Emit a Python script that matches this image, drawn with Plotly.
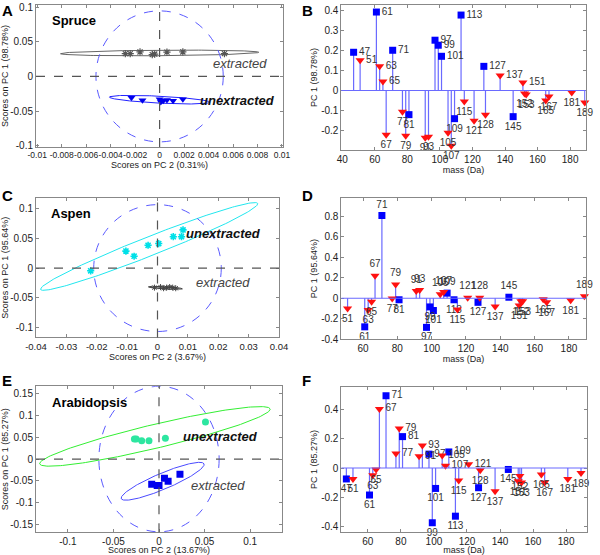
import numpy as np
import plotly.graph_objects as go

# ---------------- data ----------------
masses = [47, 51, 61, 63, 65, 67, 71, 77, 79, 81, 91, 93, 97, 99, 101, 105, 107, 109,
          113, 115, 121, 127, 128, 137, 145, 151, 152, 153, 165, 167, 181, 189]
square_masses = [47, 61, 71, 81, 97, 99, 101, 109, 113, 127, 145]

spruce_pc1 = [0.19, 0.15, 0.39, 0.12, 0.045, -0.22, 0.20, -0.105, -0.225, -0.12, -0.235, -0.23,
              0.25, 0.225, 0.17, -0.21, -0.275, -0.14, 0.375, -0.055, -0.15, 0.12, -0.12, 0.075,
              -0.13, 0.04, -0.015, -0.02, -0.05, -0.03, -0.01, -0.06]
aspen_pc1 = [-0.11, -0.10, -0.28, -0.115, -0.035, 0.22, 0.81, -0.002, 0.135, -0.015, 0.07, 0.08,
             -0.285, -0.085, -0.12, 0.04, 0.06, 0.05, -0.015, -0.11, 0.005, -0.04, 0.005, -0.08,
             0.01, -0.07, -0.03, -0.03, -0.01, -0.04, -0.02, 0.02]
arab_pc1 = [-0.075, -0.075, -0.185, -0.05, -0.01, 0.405, 0.495, 0.10, 0.27, 0.215, 0.08, 0.155,
            0.095, -0.375, -0.14, 0.085, 0.015, 0.11, -0.33, -0.085, 0.025, -0.135, -0.015, -0.16,
            -0.01, -0.09, -0.055, -0.1, -0.045, -0.1, -0.075, -0.035]

# score plots (PC2, PC1)
spruce_ext_pc2 = [-0.0028, -0.0024, -0.0016, -0.0006, -0.0004, 0.0006, 0.0019, 0.0053]
spruce_ext_pc1 = [0.0328, 0.0328, 0.0353, 0.0314, 0.0322, 0.0350, 0.0353, 0.0328]
spruce_unx_pc2 = [-0.0023, -0.0014, 0.0, 0.0003, 0.0006, 0.0011, 0.0019, 0.0001]
spruce_unx_pc1 = [-0.031, -0.0343, -0.033, -0.035, -0.034, -0.035, -0.033, -0.037]

aspen_unx_pc2 = [-0.022, -0.0104, -0.0077, -0.0031, 0.0004, 0.0052, 0.0079, 0.0084]
aspen_unx_pc1 = [-0.0046, 0.0287, 0.020, 0.0385, 0.0414, 0.0529, 0.0529, 0.0644]
aspen_ext_pc2 = [-0.001, 0.001, 0.002, 0.003, 0.004, 0.005, 0.006]
aspen_ext_pc1 = [-0.033, -0.032, -0.034, -0.033, -0.032, -0.033, -0.034]

arab_unx_pc2 = [-0.027, -0.025, -0.019, -0.011, 0.007, 0.051]
arab_unx_pc1 = [0.046, 0.046, 0.042, 0.042, 0.048, 0.085]
arab_ext_pc2 = [-0.008, -0.002, 0.0, 0.006, 0.010, 0.023]
arab_ext_pc1 = [-0.058, -0.061, -0.061, -0.044, -0.051, -0.035]

# confidence ellipses: centre, half-axis vector A, half-axis vector B (data units)
spruce_ext_ell = [(0.0, 0.0338), (0.0081, 0.001), (0.0, 0.004)]
spruce_unx_ell = [(0.0, -0.0336), (0.0041, -0.0037), (0.0, 0.005)]
aspen_unx_ell = [(-0.00275, 0.0365), (0.03575, 0.0725), (-0.00113, 0.0149)]
aspen_ext_ell = [(0.0026, -0.0333), (0.0056, -0.0017), (0.0, 0.002)]
arab_unx_ell = [(-0.0045, 0.052), (0.1265, 0.063), (-0.00304, 0.02657)]
arab_ext_ell = [(0.004, -0.051), (0.0454, 0.040), (-0.00345, 0.017)]

# Hotelling limit circles (x radius, y radius)
spruce_lim = (0.0052, 0.0945)
aspen_lim = (0.021, 0.107)
arab_lim = (0.066, 0.167)

FONT = "Liberation Sans, Arial, sans-serif"
BLUE = "#0000ff"
RED = "#ff1010"
STEM = "#6a6aff"

fig = go.Figure()


def ellipse(ell):
    (cx, cy), (ax, ay), (bx, by) = ell
    t = np.linspace(0, 2 * np.pi, 200)
    return cx + np.cos(t) * ax + np.sin(t) * bx, cy + np.cos(t) * ay + np.sin(t) * by


def add_scores(ax, pts, ells, lim):
    xa, ya = "x" + ax, "y" + ax
    for ell, col in ells:
        ex, ey = ellipse(ell)
        fig.add_trace(go.Scatter(x=ex, y=ey, mode="lines", line=dict(color=col, width=1),
                                 xaxis=xa, yaxis=ya, hoverinfo="skip"))
    for px, py, sym, col, size, lw in pts:
        fig.add_trace(go.Scatter(x=px, y=py, mode="markers", xaxis=xa, yaxis=ya,
                                 marker=dict(symbol=sym, color=col, size=size,
                                             line=dict(color=col, width=lw))))
    rx, ry = lim
    fig.add_shape(type="circle", xref=xa, yref=ya, x0=-rx, x1=rx, y0=-ry, y1=ry,
                  line=dict(color="#5a5aff", width=1, dash="dash"))
    fig.add_shape(type="line", xref=xa + " domain", yref=ya, x0=0, x1=1, y0=0, y1=0,
                  line=dict(color="#555", width=1.2, dash="dash"))
    fig.add_shape(type="line", xref=xa, yref=ya + " domain", x0=0, x1=0, y0=0, y1=1,
                  line=dict(color="#555", width=1.2, dash="dash"))


def add_stems(ax, vals, pos_textpos):
    xa, ya = "x" + ax, "y" + ax
    sx, sy = [], []
    for m, v in zip(masses, vals):
        sx += [m, m, None]
        sy += [0, v, None]
    fig.add_trace(go.Scatter(x=sx, y=sy, mode="lines", line=dict(color=STEM, width=1.2),
                             xaxis=xa, yaxis=ya, hoverinfo="skip"))
    fig.add_shape(type="line", xref=xa + " domain", yref=ya, x0=0, x1=1, y0=0, y1=0,
                  line=dict(color=STEM, width=1.2))
    for is_sq in (True, False):
        xs = [m for m in masses if (m in square_masses) == is_sq]
        ys = [v for m, v in zip(masses, vals) if (m in square_masses) == is_sq]
        tp = [pos_textpos if v > 0 else "bottom center" for v in ys]
        fig.add_trace(go.Scatter(
            x=xs, y=ys, mode="markers+text", text=[str(m) for m in xs], textposition=tp,
            textfont=dict(size=10, color="#333", family=FONT), cliponaxis=False,
            xaxis=xa, yaxis=ya,
            marker=dict(symbol="square" if is_sq else "triangle-down",
                        color=BLUE if is_sq else RED, size=7 if is_sq else 8)))


# Panel A
add_scores("", [(spruce_ext_pc2, spruce_ext_pc1, "asterisk-open", "#555", 6, 1.2),
                (spruce_unx_pc2, spruce_unx_pc1, "triangle-down", "#0000ee", 7, 0)],
           [(spruce_ext_ell, "#666"), (spruce_unx_ell, "#2222ff")], spruce_lim)
# Panel C
add_scores("3", [(aspen_ext_pc2, aspen_ext_pc1, "asterisk-open", "#444", 5, 1),
                 (aspen_unx_pc2, aspen_unx_pc1, "asterisk-open", "#00e0e8", 6, 1.6)],
           [(aspen_unx_ell, "#22e6ee"), (aspen_ext_ell, "#444")], aspen_lim)
# Panel E
add_scores("5", [(arab_unx_pc2, arab_unx_pc1, "circle", "#2de6a0", 7, 0),
                 (arab_ext_pc2, arab_ext_pc1, "square", "#0000ee", 7, 0)],
           [(arab_unx_ell, "#33ee33"), (arab_ext_ell, "#4a4aff")], arab_lim)
# Stem panels
add_stems("2", spruce_pc1, "middle right")
add_stems("4", aspen_pc1, "top center")
add_stems("6", arab_pc1, "middle right")

axis_common = dict(showline=True, linecolor="#888", linewidth=1, mirror="ticks",
                   ticks="inside", ticklen=3, tickcolor="#888", showgrid=False,
                   zeroline=False, automargin=False, tickangle=0,
                   tickfont=dict(size=10, color="#222", family=FONT),
                   title_font=dict(size=9, color="#222", family=FONT))

L1, R1 = 0.06, 0.472
L2, R2 = 0.569, 0.976
rows = [(0.735, 0.991), (0.392, 0.643), (0.041, 0.304)]

def x_ax(dom, rng, ticks, labels, title, anchor, fs=10):
    return dict(axis_common, domain=dom, range=rng, tickvals=ticks, ticktext=labels,
                anchor=anchor, title=dict(text=title, standoff=1),
                tickfont=dict(size=fs, color="#222", family=FONT))

def y_ax(dom, rng, ticks, labels, title, anchor):
    return dict(axis_common, domain=dom, range=rng, tickvals=ticks, ticktext=labels,
                anchor=anchor, title=dict(text=title, standoff=2))

a_x = [-0.01, -0.008, -0.006, -0.004, -0.002, 0, 0.002, 0.004, 0.006, 0.008, 0.01]
a_xl = ["-0.01", "-0.008", "-0.006", "-0.004", "-0.002", "0", "0.002", "0.004", "0.006", "0.008", "0.01"]
a_y = [-0.1, -0.05, 0, 0.05, 0.1]
a_yl = ["-0.1", "-0.05", "0", "0.05", "0.1"]
b_x = [40, 60, 80, 100, 120, 140, 160, 180]
b_y = [-0.2, -0.1, 0, 0.1, 0.2, 0.3, 0.4]
b_yl = ["-0.2", "-0.1", "0", "0.1", "0.2", "0.3", "0.4"]
c_x = [-0.04, -0.03, -0.02, -0.01, 0, 0.01, 0.02, 0.03, 0.04]
c_xl = ["-0.04", "-0.03", "-0.02", "-0.01", "0", "0.01", "0.02", "0.03", "0.04"]
d_x = [60, 80, 100, 120, 140, 160, 180]
d_y = [-0.4, -0.2, 0, 0.2, 0.4, 0.6, 0.8]
d_yl = ["-0.4", "-0.2", "0", "0.2", "0.4", "0.6", "0.8"]
e_x = [-0.1, -0.05, 0, 0.05, 0.1]
e_xl = ["-0.1", "-0.05", "0", "0.05", "0.1"]
e_y = [-0.15, -0.1, -0.05, 0, 0.05, 0.1, 0.15]
e_yl = ["-0.15", "-0.1", "-0.05", "0", "0.05", "0.1", "0.15"]
f_y = [-0.4, -0.2, 0, 0.2, 0.4]
f_yl = ["-0.4", "-0.2", "0", "0.2", "0.4"]

fig.update_layout(
    width=600, height=555, margin=dict(l=0, r=0, t=0, b=0, autoexpand=False),
    paper_bgcolor="white", plot_bgcolor="white", showlegend=False,
    font=dict(family=FONT, size=10, color="#222"),
    xaxis=x_ax([L1, R1], [-0.0101, 0.0101], a_x, a_xl, "Scores on PC 2 (0.31%)", "y", fs=8.5),
    yaxis=y_ax(list(rows[0]), [-0.102, 0.103], a_y, a_yl, "Scores on PC 1 (98.78%)", "x"),
    xaxis2=x_ax([L2, R2], [39.5, 189.5], b_x, [str(v) for v in b_x], "mass (Da)", "y2"),
    yaxis2=y_ax([0.730, 0.991], [-0.295, 0.425], b_y, b_yl, "PC 1 (98.78%)", "x2"),
    xaxis3=x_ax([L1, 0.465], [-0.04, 0.04], c_x, c_xl, "Scores on PC 2 (3.67%)", "y3", fs=9.5),
    yaxis3=y_ax(list(rows[1]), [-0.117, 0.118], a_y, a_yl, "Scores on PC 1 (95.64%)", "x3"),
    xaxis4=x_ax([L2, R2], [47.4, 189.7], d_x, [str(v) for v in d_x], "mass (Da)", "y4"),
    yaxis4=y_ax([0.389, 0.643], [-0.4, 0.98], d_y, d_yl, "PC 1 (95.64%)", "x4"),
    xaxis5=x_ax([L1, 0.470], [-0.135, 0.135], e_x, e_xl, "Scores on PC 2 (13.67%)", "y5"),
    yaxis5=y_ax(list(rows[2]), [-0.168, 0.167], e_y, e_yl, "Scores on PC 1 (85.27%)", "x5"),
    xaxis6=x_ax([L2, 0.978], [44, 192.5], d_x, [str(v) for v in d_x], "mass (Da)", "y6"),
    yaxis6=y_ax([0.041, 0.303], [-0.44, 0.556], f_y, f_yl, "PC 1 (85.27%)", "x6"),
)

ann = []
# panel letters
for letter, x, y in [("A", 0.0, 1.0), ("B", 0.5, 1.0), ("C", 0.0, 0.667), ("D", 0.5, 0.667),
                     ("E", 0.0, 0.333), ("F", 0.5, 0.333)]:
    ann.append(dict(text="<b>%s</b>" % letter, x=x, y=y, xref="paper", yref="paper",
                    xanchor="left", yanchor="top", showarrow=False,
                    font=dict(size=15, color="black", family=FONT)))
# species names
for name, ax in [("Spruce", ""), ("Aspen", "3"), ("Arabidopsis", "5")]:
    ann.append(dict(text="<b>%s</b>" % name, x=0.055, y=0.89, xref="x%s domain" % ax,
                    yref="y%s domain" % ax, xanchor="left", yanchor="middle", showarrow=False,
                    font=dict(size=13, color="black", family=FONT)))
# group labels
for txt, bold, x, y, ax in [("extracted", False, 0.0066, 0.019, ""),
                            ("unextracted", True, 0.0064, -0.035, ""),
                            ("unextracted", True, 0.0216, 0.0575, "3"),
                            ("extracted", False, 0.0214, -0.0247, "3"),
                            ("unextracted", True, 0.067, 0.052, "5"),
                            ("extracted", False, 0.065, -0.0605, "5")]:
    t = "<i>%s</i>" % txt
    if bold:
        t = "<b>%s</b>" % t
    ann.append(dict(text=t, x=x, y=y, xref="x" + ax, yref="y" + ax, showarrow=False,
                    xanchor="center", yanchor="middle",
                    font=dict(size=13, color="#111" if bold else "#444", family=FONT)))
fig.update_layout(annotations=ann)

fig.write_html("out.html", config={"displayModeBar": False},
               post_script="document.body.style.margin='0';document.body.style.padding='0';")
